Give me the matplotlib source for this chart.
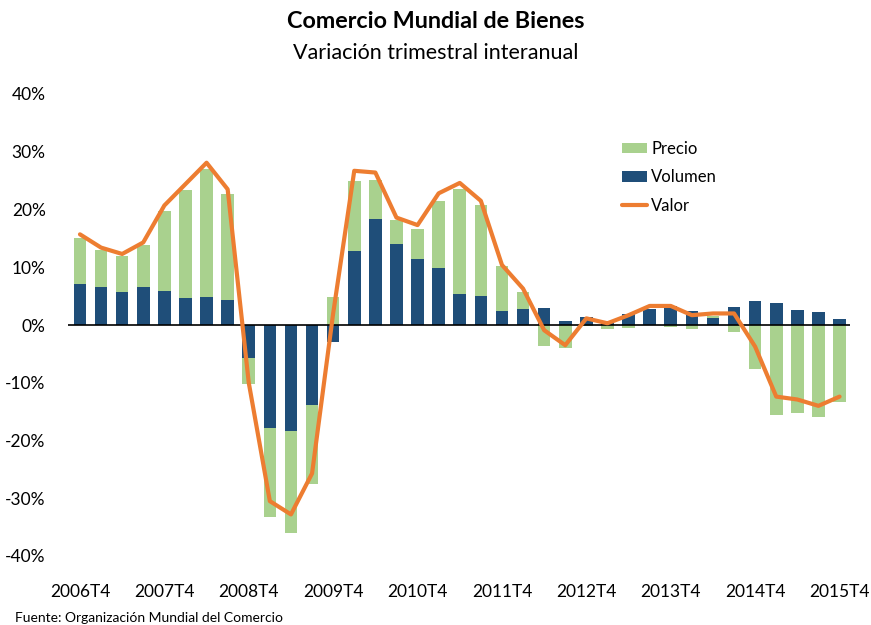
import numpy as np
import matplotlib
matplotlib.use("Agg")
import matplotlib.pyplot as plt

plt.rcParams['font.family'] = ['Lato', 'DejaVu Sans']

# trimestres 2006T4 .. 2015T4
trimestres = [f'{a}T{q}' for a in range(2006, 2016) for q in range(1, 5)][3:]

volumen = [7.1, 6.5, 5.8, 6.6, 5.9, 4.7, 4.8, 4.4,
           -5.7, -17.8, -18.4, -13.9, -2.9, 12.8, 18.3, 14.1,
           11.5, 9.8, 5.4, 5.1, 2.4, 2.7, 2.9, 0.7,
           1.45, 0.7, 1.85, 2.7, 3.35, 2.4, 1.15, 3.1,
           4.2, 3.75, 2.6, 2.2, 1.0]
precio = [7.9, 6.5, 6.1, 7.2, 13.8, 18.6, 22.2, 18.3,
          -4.6, -15.4, -17.6, -13.7, 4.9, 12.2, 6.8, 4.0,
          5.2, 11.7, 18.1, 15.6, 7.8, 3.0, -3.6, -4.0,
          -0.2, -0.7, -0.45, 0.0, -0.3, -0.75, 0.4, -1.2,
          -7.6, -15.6, -15.3, -15.9, -13.4]
valor = [15.7, 13.4, 12.3, 14.3, 20.7, 24.4, 28.1, 23.5,
         -10.0, -30.5, -32.8, -25.7, 2.0, 26.7, 26.4, 18.6,
         17.3, 22.8, 24.6, 21.5, 10.4, 6.3, -0.9, -3.5,
         1.15, 0.3, 1.7, 3.3, 3.3, 1.7, 2.0, 2.0,
         -3.75, -12.4, -12.9, -14.0, -12.4]

verde = '#A9D18E'
azul = '#1F4E79'
naranja = '#ED7D31'

x = np.arange(len(trimestres))
vol = np.array(volumen)
pre = np.array(precio)

# apilado: precio encima del volumen si tienen el mismo signo, si no desde cero
base_pre = np.where(np.sign(vol) == np.sign(pre), vol, 0)

fig = plt.figure(figsize=(8.71, 6.25), dpi=100)
ax = fig.add_axes([0.078, 0.1104, 0.898, 0.7392])

b_pre = ax.bar(x, pre, 0.6, bottom=base_pre, color=verde, label='Precio', zorder=2)
b_vol = ax.bar(x, vol, 0.6, color=azul, label='Volumen', zorder=2)
l_val, = ax.plot(x, valor, color=naranja, lw=3, label='Valor', zorder=3,
                 solid_joinstyle='round', solid_capstyle='round')
ax.axhline(0, color='black', lw=1.2, zorder=2.5)

ax.set_ylim(-40, 40)
ax.set_xlim(-0.57, 36.5)
ax.set_yticks(np.arange(-40, 41, 10))
ax.set_yticklabels([f'{v}%' for v in range(-40, 41, 10)])
ax.set_xticks(x[::4])
ax.set_xticklabels(trimestres[::4])
ax.tick_params(length=0, labelsize=12.5)
ax.tick_params(axis='y', pad=16)
ax.tick_params(axis='x', pad=20)
for s in ax.spines.values():
    s.set_visible(False)

fig.text(0.5, 1 - 22 / 625, 'Comercio Mundial de Bienes', ha='center', va='center',
         fontsize=16.8, fontweight='bold')
fig.text(0.5, 1 - 53 / 625, 'Variación trimestral interanual', ha='center', va='center',
         fontsize=15.5)
fig.text(15 / 871, 1 - 618 / 625, 'Fuente: Organización Mundial del Comercio',
         ha='left', va='center', fontsize=10)

ax.legend([b_pre, b_vol, l_val], ['Precio', 'Volumen', 'Valor'],
          loc='upper left', bbox_to_anchor=(622 / 871, 1 - 141 / 625),
          bbox_transform=fig.transFigure, frameon=False, fontsize=12,
          handlelength=1.5, handleheight=0.6, handletextpad=0.25, labelspacing=0.75,
          borderaxespad=0, borderpad=0)

fig.savefig('out.png', dpi=100)
